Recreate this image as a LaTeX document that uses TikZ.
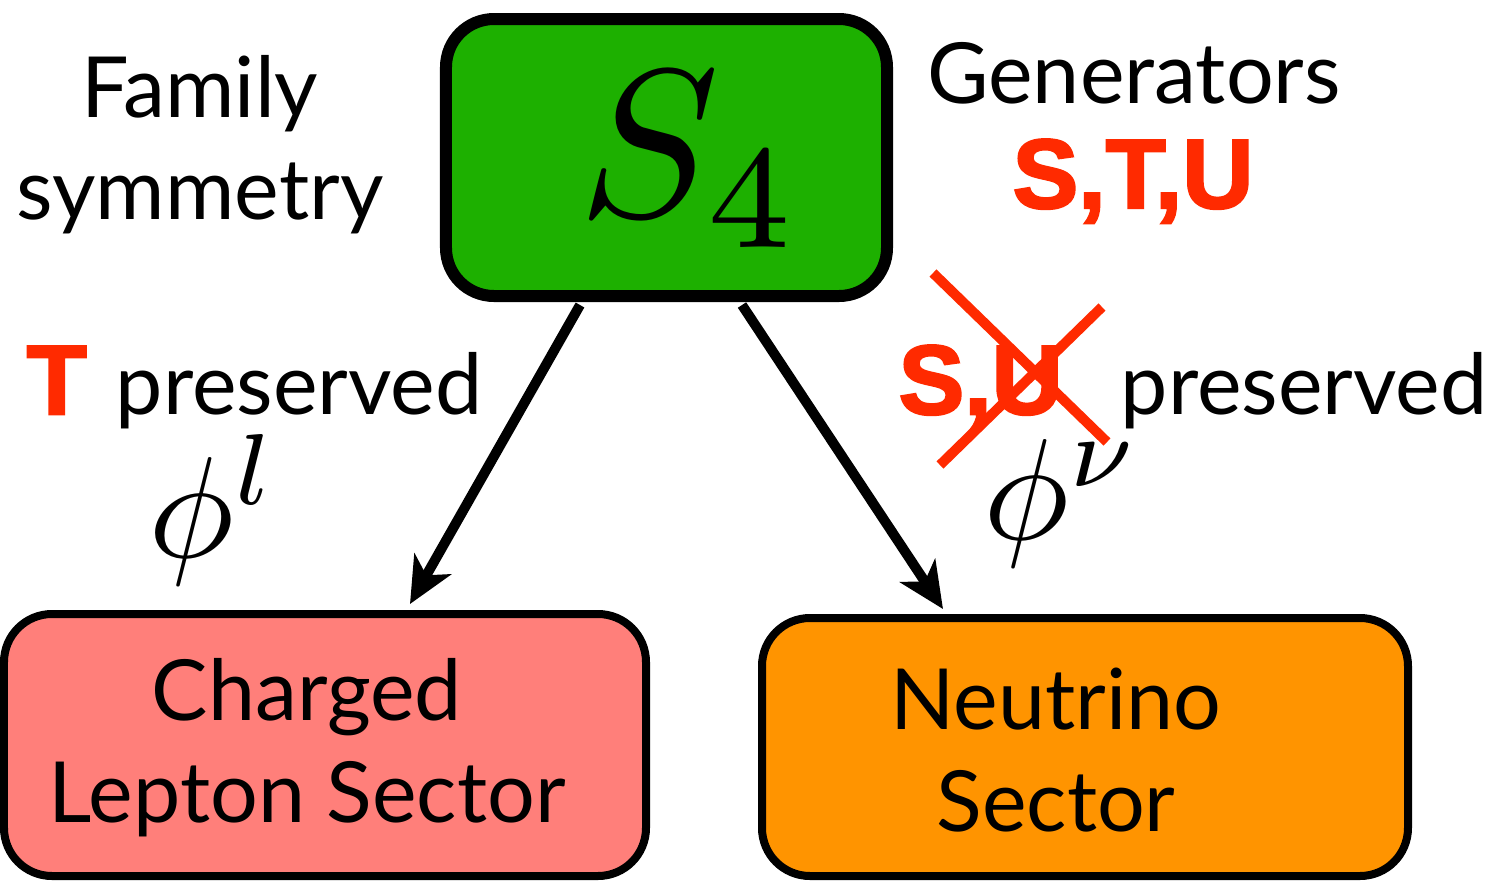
\documentclass[tikz,border=0pt]{standalone}
\usepackage{graphicx}
\usepackage{fontspec}
\setmainfont{Lato}
\newfontfamily\redfont[FakeBold=2.5]{Liberation Sans Bold}
\usetikzlibrary{arrows.meta,calc}
\definecolor{boxgreen}{HTML}{1DB000}
\definecolor{boxpink}{HTML}{FF7F7A}
\definecolor{boxorange}{HTML}{FF9400}
\definecolor{myred}{HTML}{FF2A00}
\tikzset{
  box/.style={draw=black, rounded corners=0.48cm, inner sep=0pt},
  lbl/.style={inner sep=0pt, font=\fontsize{24}{29}\selectfont, align=center},
  redlbl/.style={inner sep=0pt, text=myred, font=\redfont\fontsize{28}{32}\selectfont},
  arr/.style={line width=0.1cm, -{Stealth[length=0.46cm, width=0.42cm, inset=0.13cm]}},
  cross/.style={draw=myred, line width=0.1cm}
}
\begin{document}
\begin{tikzpicture}
\useasboundingbox (0,0) rectangle (14.88,-8.82);
% boxes
\node[box, line width=0.12cm, fill=boxgreen, minimum width=4.41cm, minimum height=2.77cm] (s4) at (6.665,-1.575) {};
\node[box, line width=0.08cm, fill=boxpink, minimum width=6.42cm, minimum height=2.62cm] (cl) at (3.25,-7.45) {};
\node[box, line width=0.08cm, fill=boxorange, minimum width=6.46cm, minimum height=2.58cm] (nu) at (10.85,-7.47) {};
% box texts
\node[inner sep=0pt] (s4t) at (6.9,-1.6) {\scalebox{6}{$S_4$}};
\node[lbl] (clt) at (3.07,-7.48) {Charged\\Lepton Sector};
\node[lbl] (nut) at (10.56,-7.5) {Neutrino\\Sector};
% side texts
\node[lbl] (fam) at (2.0,-1.45) {Family\\symmetry};
\node[lbl, anchor=base] (gen) at (11.34,-1.03) {Generators};
\node[redlbl, anchor=base] (stu) at (11.33,-2.08) {S,T,U};
\node[redlbl, anchor=base west] (tp) at (0.26,-4.14) {T};
\node[lbl, anchor=base west] (tpres) at (1.15,-4.14) {preserved};
\node[redlbl, anchor=base west] (su) at (8.98,-4.14) {S,U};
\node[lbl, anchor=base west] (supres) at (11.2,-4.14) {preserved};
\node[inner sep=0pt] (phil) at (2.14,-5.1) {\scalebox{4.1}{$\phi^l$}};
\node[inner sep=0pt] (phinu) at (10.62,-5.03) {\scalebox{4.1}{$\phi^\nu$}};
% cross
\coordinate (c1a) at (9.33,-2.73);
\coordinate (c1b) at (11.07,-4.42);
\coordinate (c2a) at (11.02,-3.07);
\coordinate (c2b) at (9.4,-4.65);
\draw[cross] (c1a) -- (c1b);
\draw[cross] (c2a) -- (c2b);
% arrows
\draw[arr] ($(s4.south)+(-0.865,-0.03)$) -- ($(cl.north)+(0.85,0.06)$);
\draw[arr] ($(s4.south)+(0.755,-0.03)$) -- ($(nu.north)+(-1.42,0.05)$);
\end{tikzpicture}
\end{document}
